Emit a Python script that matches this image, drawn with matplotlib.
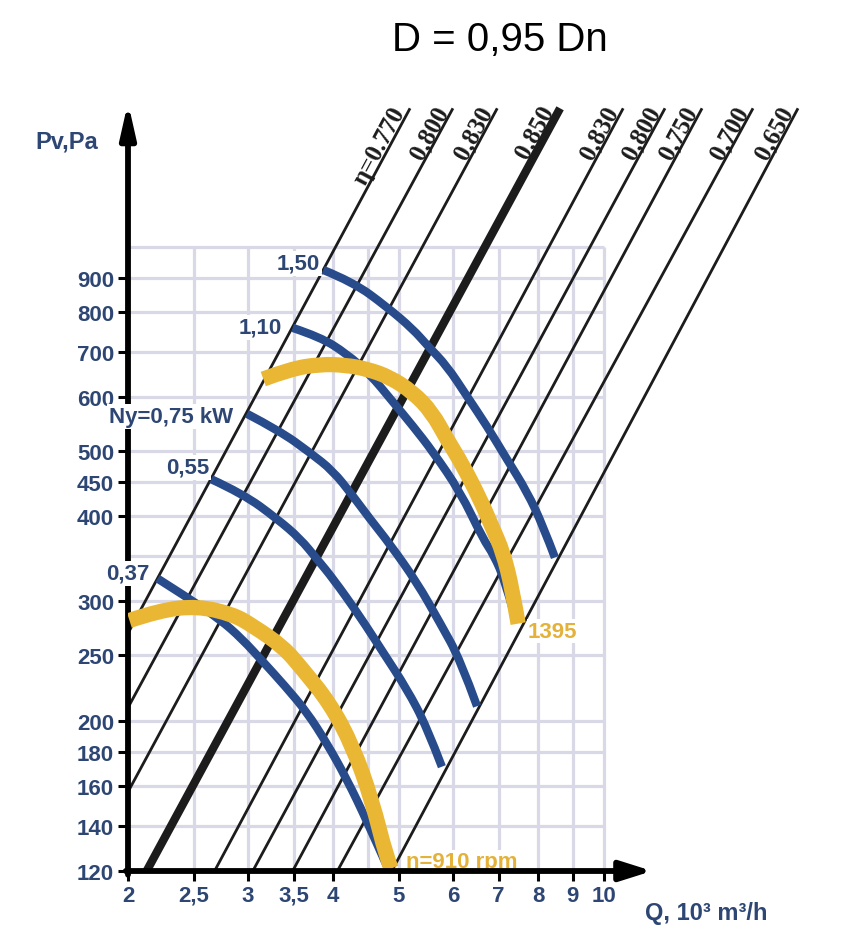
import numpy as np
import matplotlib
matplotlib.use('Agg')
import matplotlib.pyplot as plt
from matplotlib.path import Path
from matplotlib.patches import PathPatch

plt.rcParams['font.family'] = ['Liberation Sans', 'DejaVu Sans']

# axes ticks and grid
q_ticks = [2, 2.5, 3, 3.5, 4, 5, 6, 7, 8, 9, 10]
q_tick_labels = ['2', '2,5', '3', '3,5', '4', '5', '6', '7', '8', '9', '10']
p_ticks = [120, 140, 160, 180, 200, 250, 300, 400, 450, 500, 600, 700, 800, 900]
q_grid = [2.5, 3, 3.5, 4, 4.5, 5, 6, 7, 8, 9, 10]
p_grid = [140, 160, 180, 200, 250, 300, 350, 400, 450, 500, 600, 700, 800, 900, 1000]

# efficiency lines (lower end -> upper end)
eta_labels = ['η=0.770', '0,800', '0,830', '0,850', '0,830', '0,800', '0,750', '0,700', '0,650']
eta_q_low = [2.0, 2.0, 2.0, 2.13, 2.68, 3.05, 3.49, 4.06, 4.88]
eta_p_low = [269, 209, 157, 120, 120, 120, 120, 120, 120]
eta_q_high = [5.19, 6.00, 6.97, 8.62, 10.67, 12.29, 13.93, 16.55, 19.27]
eta_p_high = [1600, 1600, 1600, 1600, 1600, 1600, 1600, 1600, 1600]

# motor power curves, kW
q_037 = [2.21, 2.43, 2.73, 2.94, 3.16, 3.40, 3.66, 3.92, 4.19, 4.49, 4.80]
p_037 = [324, 305, 282, 264, 244, 225, 206, 185, 164, 142, 122]
q_055 = [2.65, 2.95, 3.31, 3.58, 3.79, 4.00, 4.38, 4.74, 5.13, 5.49, 5.78]
p_055 = [454, 432, 397, 371, 346, 324, 285, 252, 223, 196, 171]
q_075 = [2.99, 3.34, 3.70, 4.00, 4.27, 4.53, 4.85, 5.31, 5.74, 6.15, 6.51]
p_075 = [567, 535, 497, 467, 430, 397, 364, 320, 279, 246, 210]
q_110 = [3.49, 3.83, 4.19, 4.53, 4.90, 5.24, 5.61, 6.15, 6.64, 6.89, 7.16, 7.38]
p_110 = [759, 736, 695, 649, 590, 544, 498, 435, 371, 351, 321, 287]
q_150 = [3.87, 4.28, 4.80, 5.24, 5.51, 5.88, 6.29, 6.73, 7.20, 7.71, 8.14, 8.47]
p_150 = [924, 887, 815, 756, 714, 667, 602, 544, 486, 435, 387, 348]

power_labels = ['0,37', '0,55', 'Ny=0,75 kW', '1,10', '1,50']
power_label_q = [2.154, 2.630, 2.851, 3.365, 3.828]
power_label_p = [330, 473, 561, 761, 946]

# fan curves, rpm
q_910 = [2.01, 2.23, 2.53, 2.85, 3.05, 3.38, 3.61, 3.96, 4.28, 4.56, 4.80, 4.87]
p_910 = [281, 291, 295, 287, 276, 257, 238, 212, 183, 153, 125, 121]
q_1395 = [3.16, 3.46, 3.83, 4.17, 4.49, 4.85, 5.24, 5.59, 5.88, 6.19, 6.58, 6.85, 7.11, 7.33, 7.48]
p_1395 = [638, 660, 671, 669, 660, 642, 610, 570, 520, 478, 424, 386, 354, 313, 278]

blue = '#284b8c'
text_blue = '#2d4673'
yellow = '#e9b734'
text_yellow = '#e4b23a'
grid_col = '#d9d8e6'
ink = '#1c1c1c'


def smooth_curve(ax, q, p, **kw):
    # quadratic B-spline through the read points (drawn in log-log display space)
    pts = list(zip(q, p))
    verts = [pts[0]]
    codes = [Path.MOVETO]
    n = len(pts)
    for i in range(1, n - 1):
        if i < n - 2:
            end = (np.sqrt(pts[i][0] * pts[i + 1][0]), np.sqrt(pts[i][1] * pts[i + 1][1]))
        else:
            end = pts[-1]
        verts += [pts[i], end]
        codes += [Path.CURVE3, Path.CURVE3]
    patch = PathPatch(Path(verts, codes), facecolor='none', transform=ax.transData,
                      capstyle='butt', joinstyle='round', **kw)
    ax.add_patch(patch)


fig = plt.figure(figsize=(8.43, 9.37), dpi=100)
ax = fig.add_axes([128 / 843, 65 / 937, 476 / 843, 624.3 / 937])
ax.set_xscale('log')
ax.set_yscale('log')
ax.set_xlim(2, 10)
ax.set_ylim(120, 1000)
for s in ax.spines.values():
    s.set_visible(False)
ax.set_facecolor('none')

# grid
ax.vlines(q_grid, 120, 1000, colors=grid_col, lw=2.3, zorder=1, clip_on=False)
ax.hlines(p_grid, 2, 10, colors=grid_col, lw=2.3, zorder=1, clip_on=False)

# ticks
ax.set_xticks(q_ticks, q_tick_labels)
ax.set_yticks(p_ticks, [str(v) for v in p_ticks])
ax.minorticks_off()
ax.tick_params(axis='both', which='major', direction='out', length=7, width=2.2,
               color='black', labelsize=16, labelcolor=text_blue, pad=3)
for t in ax.get_xticklabels() + ax.get_yticklabels():
    t.set_fontweight('bold')

# efficiency lines with labels
for lab, q0, p0, q1, p1 in zip(eta_labels, eta_q_low, eta_p_low, eta_q_high, eta_p_high):
    w = 6 if lab == '0,850' else 2.0
    ax.plot([q0, q1], [p0, p1], color=ink, lw=w, clip_on=False,
            solid_capstyle='butt', zorder=2)
    (x0, y0), (x1, y1) = ax.transData.transform([(q0, p0), (q1, p1)])
    ang = np.degrees(np.arctan2(y1 - y0, x1 - x0))
    c, s = np.cos(np.radians(ang)), np.sin(np.radians(ang))
    d, off = 3, w / 2 + 1
    ax.annotate(lab, xy=(q1, p1), xytext=(-d * c - off * s, -d * s + off * c),
                textcoords='offset points', rotation=ang, rotation_mode='anchor',
                ha='right', va='baseline', fontsize=18, fontweight='bold',
                family=['Liberation Serif', 'DejaVu Serif'], color=ink,
                annotation_clip=False, zorder=3)

# axis arrows
ax.annotate('', xy=(2, 1633), xytext=(2, 118.5),
            arrowprops=dict(arrowstyle='-|>,head_length=2.0,head_width=0.45',
                            lw=4.2, color='black', shrinkA=0, shrinkB=0,
                            mutation_scale=10),
            annotation_clip=False, zorder=2.5)
ax.annotate('', xy=(11.77, 120), xytext=(1.985, 120),
            arrowprops=dict(arrowstyle='-|>,head_length=1.9,head_width=0.6',
                            lw=4.2, color='black', shrinkA=0, shrinkB=0,
                            mutation_scale=10),
            annotation_clip=False, zorder=7)

# power curves
for q, p in [(q_037, p_037), (q_055, p_055), (q_075, p_075), (q_110, p_110), (q_150, p_150)]:
    smooth_curve(ax, q, p, edgecolor=blue, lw=6, zorder=4)
for lab, q, p in zip(power_labels, power_label_q, power_label_p):
    ax.text(q, p, lab, ha='right', va='center', fontsize=16, fontweight='bold',
            color=text_blue, zorder=3.5,
            bbox=dict(facecolor='white', edgecolor='none', pad=1.5))

# fan speed curves
smooth_curve(ax, q_910, p_910, edgecolor=yellow, lw=11, zorder=5)
smooth_curve(ax, q_1395, p_1395, edgecolor=yellow, lw=11, zorder=5)
ax.text(7.735, 271, '1395', ha='left', va='center', fontsize=16, fontweight='bold',
        color=text_yellow, zorder=6, bbox=dict(facecolor='white', edgecolor='none', pad=1))
ax.text(5.118, 124, 'n=910 rpm', ha='left', va='center', fontsize=16, fontweight='bold',
        color=text_yellow, zorder=6, bbox=dict(facecolor='white', edgecolor='none', pad=1))

# axis titles and heading
fig.text(67 / 843, 1 - 142 / 937, 'Pv,Pa', ha='center', va='center', fontsize=17,
         fontweight='bold', color=text_blue)
fig.text(706 / 843, 1 - 914 / 937, 'Q, 10³ m³/h', ha='center', va='center', fontsize=17,
         fontweight='bold', color=text_blue)
fig.text(500 / 843, 1 - 40 / 937, 'D = 0,95 Dn', ha='center', va='center', fontsize=29,
         color='black')

fig.savefig('out.png', dpi=100, facecolor='white')
